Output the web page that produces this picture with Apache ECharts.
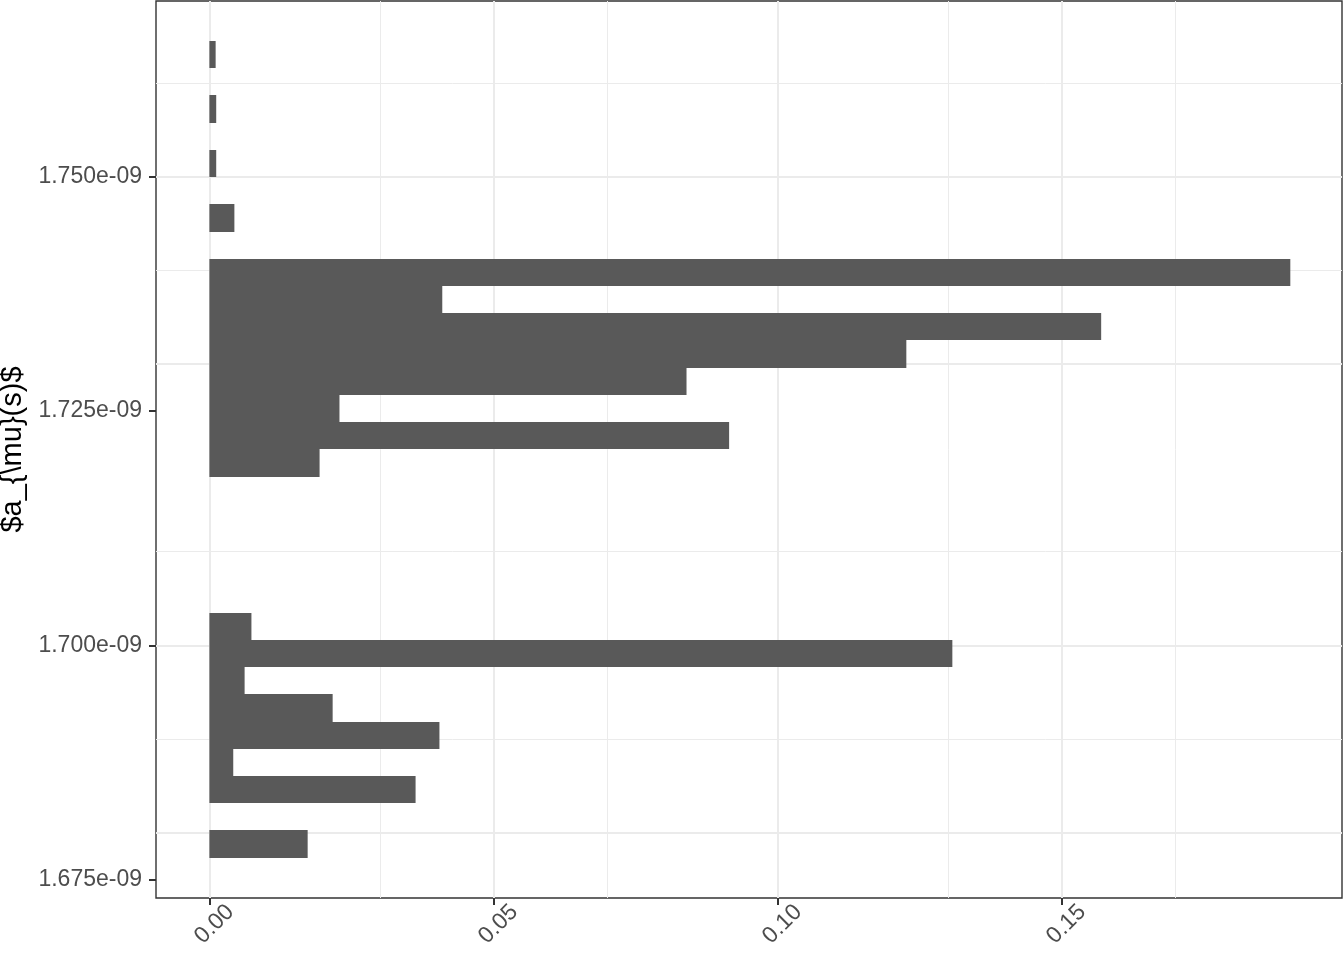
<!DOCTYPE html>
<html><head><meta charset="utf-8">
<script src="https://cdn.jsdelivr.net/npm/echarts@6/dist/echarts.min.js"></script>
<style>html,body{margin:0;padding:0;background:#fff}#c{width:1344px;height:960px}</style>
</head><body><div id="c"></div>
<script>
// Histogram bin edges of a_mu(s), in units of 1e-9 (bottom to top)
const binEdges = [1.677340, 1.680245, 1.683149, 1.686054, 1.688959, 1.691864, 1.694768, 1.697673,
  1.700578, 1.703482, 1.706387, 1.709292, 1.712196, 1.715101, 1.718006, 1.720911, 1.723815,
  1.726720, 1.729625, 1.732529, 1.735434, 1.738339, 1.741243, 1.744148, 1.747053, 1.749958,
  1.752862, 1.755767, 1.758672, 1.761576, 1.764481];
// Proportion of samples in each bin (bottom to top)
const proportions = [0.0173, 0, 0.0363, 0.0042, 0.0405, 0.0217, 0.0062, 0.1308, 0.0074, 0,
  0, 0, 0, 0, 0.0194, 0.0915, 0.0229, 0.0840, 0.1227, 0.1570,
  0.0410, 0.1903, 0, 0.0044, 0, 0.0012, 0, 0.0012, 0, 0.0011];
const yTickValues = [1.675, 1.700, 1.725, 1.750];
const yMinorValues = [1.6875, 1.7125, 1.7375, 1.7625];
const xTickValues = [0, 0.05, 0.10, 0.15];
const xMinorValues = [0.025, 0.075, 0.125, 0.175];
const yTitle = '$a_{\\mu}(s)$';

const barData = proportions.map((p, i) => [binEdges[i], binEdges[i + 1], p]);

const gridLineData = [];
yMinorValues.forEach(v => gridLineData.push({yAxis: v, lineStyle: {width: 1}}));
xMinorValues.forEach(v => gridLineData.push({xAxis: v, lineStyle: {width: 1}}));
yTickValues.forEach(v => gridLineData.push({yAxis: v, lineStyle: {width: 2}}));
xTickValues.forEach(v => gridLineData.push({xAxis: v, lineStyle: {width: 2}}));

const chart = echarts.init(document.getElementById('c'), null, {renderer: 'canvas'});
const font = 'Liberation Sans, Arial, Helvetica, sans-serif';
chart.setOption({
  animation: false,
  backgroundColor: '#ffffff',
  grid: {left: 156, right: 2, top: 1, bottom: 62, show: true, borderColor: '#333333', borderWidth: 1.4,
    backgroundColor: 'transparent', containLabel: false, outerBoundsMode: 'none'},
  xAxis: {
    type: 'value', min: -0.0094, max: 0.1994,
    splitLine: {show: false}, axisLine: {show: false, onZero: false},
    axisTick: {show: true, customValues: xTickValues, length: 7, lineStyle: {color: '#333333', width: 2}},
    axisLabel: {customValues: xTickValues, rotate: 45, fontSize: 23, color: '#4D4D4D', fontFamily: font, margin: 15,
      align: 'right', verticalAlign: 'top', padding: [0, -18, 0, 0],
      formatter: v => v.toFixed(2)}
  },
  yAxis: {
    type: 'value', min: 1.673037, max: 1.768747,
    splitLine: {show: false}, axisLine: {show: false, onZero: false},
    axisTick: {show: true, customValues: yTickValues, length: 7, lineStyle: {color: '#333333', width: 2}},
    axisLabel: {customValues: yTickValues, fontSize: 23, color: '#4D4D4D', fontFamily: font, margin: 14,
      formatter: v => v.toFixed(3) + 'e-09'},
    name: yTitle, nameLocation: 'middle', nameRotate: 90, nameGap: 122,
    nameTextStyle: {fontSize: 29, color: '#000000', fontFamily: font}
  },
  series: [
    {
      type: 'line', data: [], silent: true, z: 1,
      markLine: {silent: true, z: 0, symbol: 'none', label: {show: false}, animation: false,
        lineStyle: {color: '#EBEBEB', type: 'solid'}, data: gridLineData}
    },
    {
      type: 'custom', z: 3,
      data: barData,
      encode: {x: 2, y: [0, 1]},
      renderItem: function (params, api) {
        const lo = api.value(0), hi = api.value(1), p = api.value(2);
        if (p <= 0) return null;
        const a = api.coord([0, hi]);
        const b = api.coord([p, lo]);
        const y0 = Math.round(a[1]), y1 = Math.round(b[1]);
        return {type: 'rect', shape: {x: a[0], y: y0, width: b[0] - a[0], height: y1 - y0},
          style: {fill: '#595959'}};
      }
    }
  ]
});
</script></body></html>
